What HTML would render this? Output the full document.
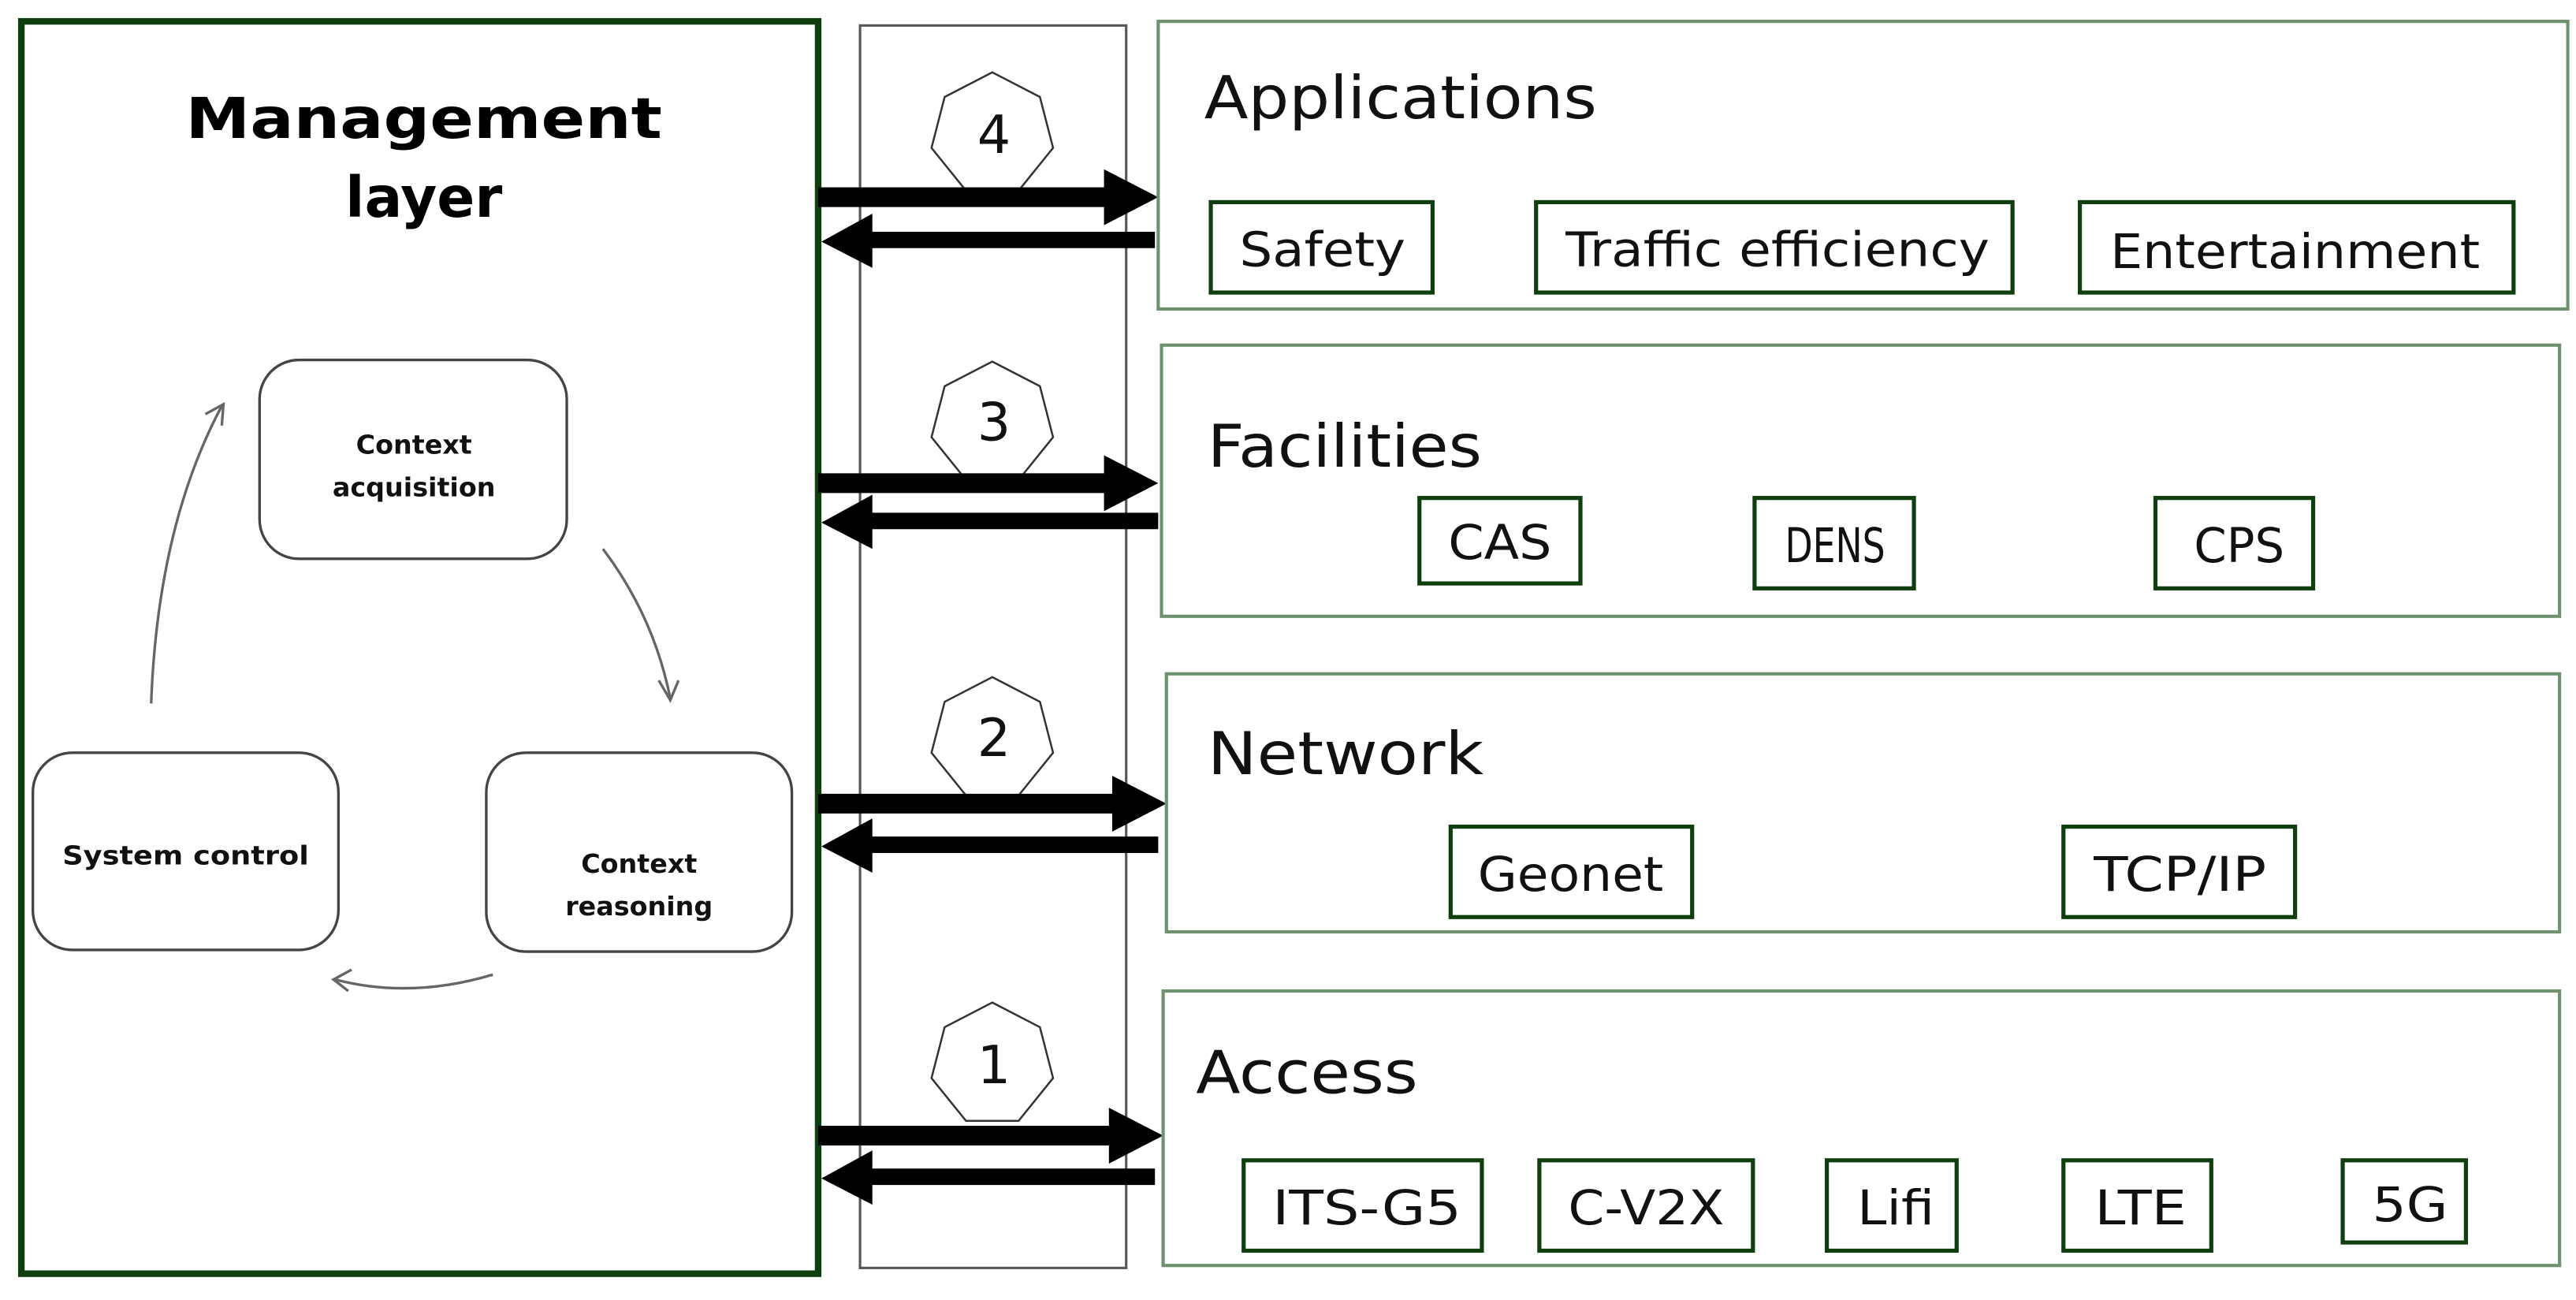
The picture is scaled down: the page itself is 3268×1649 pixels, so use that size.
<!DOCTYPE html>
<html><head><meta charset="utf-8"><style>html,body{margin:0;padding:0;background:#fff}svg{display:block}</style></head>
<body>
<svg width="3268" height="1649" viewBox="0 0 1568 791" preserveAspectRatio="none" xmlns="http://www.w3.org/2000/svg" font-family="'DejaVu Sans','Liberation Sans',sans-serif">
<rect x="0" y="0" width="1568" height="791" fill="#fff"/>
<rect x="13" y="13" width="485" height="762" fill="none" stroke="#0f3f0f" stroke-width="4"/>
<text x="258" y="84" text-anchor="middle" font-weight="bold" font-size="34" textLength="290" lengthAdjust="spacingAndGlyphs">Management</text>
<text x="258" y="132" text-anchor="middle" font-weight="bold" font-size="34">layer</text>
<g fill="none" stroke="#444" stroke-width="1.6">
<rect x="158" y="219" width="187" height="121" rx="24"/>
<rect x="296" y="458" width="186" height="121" rx="24"/>
<rect x="20" y="458" width="186" height="120" rx="24"/>
</g>
<g font-weight="bold" font-size="16" text-anchor="middle" fill="#111">
<text x="252" y="276">Context</text>
<text x="252" y="302">acquisition</text>
<text x="389" y="531">Context</text>
<text x="389" y="557">reasoning</text>
<text x="113" y="526" textLength="150" lengthAdjust="spacingAndGlyphs">System control</text>
</g>
<g fill="none" stroke="#666" stroke-width="1.6">
<path d="M367 334 Q398 375 408 425"/><path d="M401 414 L408 426 L413 414"/>
<path d="M300 593 Q250 608 204 596"/><path d="M214 590 L203 596 L212 603"/>
<path d="M92 428 Q96 320 135 247"/><path d="M125 252 L136 246 L135 259"/>
</g>
<rect x="523.5" y="15.5" width="162" height="756" fill="none" stroke="#555" stroke-width="1.5"/>
<g fill="#fff" stroke="#333" stroke-width="1.2">
<polygon points="0,-38 29,-23 37,8 16,34 -16,34 -37,8 -29,-23" transform="translate(604,82)"/>
<polygon points="0,-38 29,-23 37,8 16,34 -16,34 -37,8 -29,-23" transform="translate(604,258)"/>
<polygon points="0,-38 29,-23 37,8 16,34 -16,34 -37,8 -29,-23" transform="translate(604,450)"/>
<polygon points="0,-38 29,-23 37,8 16,34 -16,34 -37,8 -29,-23" transform="translate(604,648)"/>
</g>
<g font-size="32" text-anchor="middle" fill="#111">
<text x="605" y="93">4</text><text x="605" y="268">3</text><text x="605" y="460">2</text><text x="605" y="659">1</text>
</g>
<g fill="#000">
<path d="M498 114 H672 V103 L705 120 L672 137 V126 H498 Z"/>
<path d="M703 141 V151 H531 V163 L500 147 L531 130 V141 Z"/>
<path d="M498 288 H672 V277 L705 294 L672 311 V300 H498 Z"/>
<path d="M705 312 V322 H531 V334 L500 318 L531 301 V312 Z"/>
<path d="M498 483 H677 V472 L710 489 L677 506 V495 H498 Z"/>
<path d="M705 509 V519 H531 V531 L500 515 L531 498 V509 Z"/>
<path d="M498 685 H675 V674 L708 691 L675 708 V697 H498 Z"/>
<path d="M703 711 V721 H531 V733 L500 717 L531 700 V711 Z"/>
</g>
<g fill="none" stroke="#6e916e" stroke-width="2">
<rect x="705" y="13" width="858" height="175"/>
<rect x="707" y="210" width="851" height="165"/>
<rect x="710" y="410" width="848" height="157"/>
<rect x="708" y="603" width="850" height="167"/>
</g>
<g font-size="36" fill="#111" lengthAdjust="spacingAndGlyphs">
<text x="733" y="72" textLength="239" lengthAdjust="spacingAndGlyphs">Applications</text>
<text x="735" y="284" textLength="167" lengthAdjust="spacingAndGlyphs">Facilities</text>
<text x="735" y="471" textLength="168" lengthAdjust="spacingAndGlyphs">Network</text>
<text x="728" y="665" textLength="135" lengthAdjust="spacingAndGlyphs">Access</text>
</g>
<g fill="none" stroke="#0f3f0f" stroke-width="2.5">
<rect x="737" y="123" width="135" height="55"/>
<rect x="935" y="123" width="290" height="55"/>
<rect x="1266" y="123" width="264" height="55"/>
<rect x="864" y="303" width="98" height="52"/>
<rect x="1068" y="303" width="97" height="55"/>
<rect x="1312" y="303" width="96" height="55"/>
<rect x="883" y="503" width="147" height="55"/>
<rect x="1256" y="503" width="141" height="55"/>
<rect x="757" y="706" width="145" height="55"/>
<rect x="937" y="706" width="130" height="55"/>
<rect x="1112" y="706" width="79" height="55"/>
<rect x="1256" y="706" width="90" height="55"/>
<rect x="1426" y="706" width="75" height="50"/>
</g>
<g font-size="29" fill="#111" text-anchor="middle">
<text x="805" y="162" textLength="101" lengthAdjust="spacingAndGlyphs">Safety</text>
<text x="1082" y="162" textLength="258" lengthAdjust="spacingAndGlyphs">Traffic efficiency</text>
<text x="1397" y="163" textLength="225" lengthAdjust="spacingAndGlyphs">Entertainment</text>
<text x="913" y="340" textLength="63" lengthAdjust="spacingAndGlyphs">CAS</text>
<text x="1117" y="342" textLength="61" lengthAdjust="spacingAndGlyphs">DENS</text>
<text x="1363" y="342" textLength="55" lengthAdjust="spacingAndGlyphs">CPS</text>
<text x="956" y="542" textLength="113" lengthAdjust="spacingAndGlyphs">Geonet</text>
<text x="1327" y="542" textLength="105" lengthAdjust="spacingAndGlyphs">TCP/IP</text>
<text x="832" y="745" textLength="115" lengthAdjust="spacingAndGlyphs">ITS-G5</text>
<text x="1002" y="745" textLength="95" lengthAdjust="spacingAndGlyphs">C-V2X</text>
<text x="1154" y="745" textLength="47" lengthAdjust="spacingAndGlyphs">Lifi</text>
<text x="1303" y="745" textLength="56" lengthAdjust="spacingAndGlyphs">LTE</text>
<text x="1467" y="743" textLength="46" lengthAdjust="spacingAndGlyphs">5G</text>
</g>
</svg>
</body></html>
